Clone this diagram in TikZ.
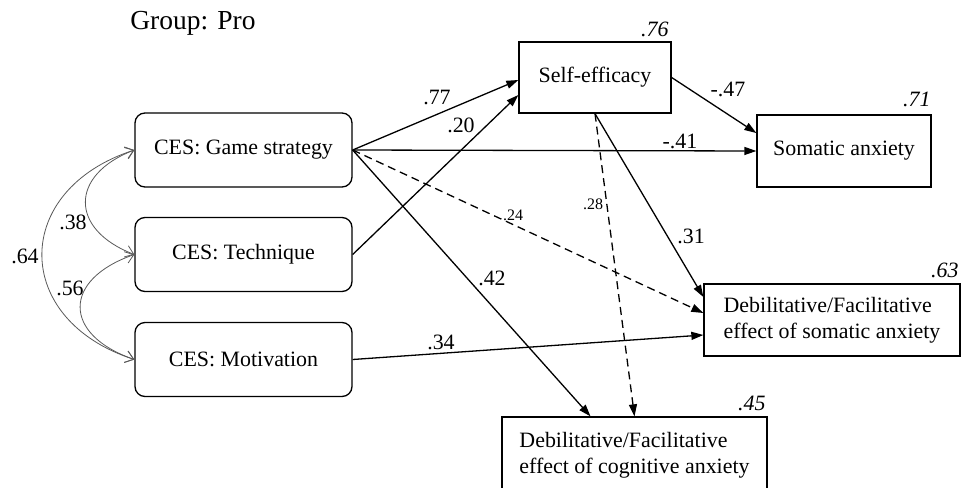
\documentclass[tikz,border=0pt]{standalone}
\usepackage{fontspec}
\setmainfont{Liberation Serif}
\usetikzlibrary{arrows.meta,calc}
\begin{document}
\begin{tikzpicture}[x=0.5pt,y=-0.5pt,
  mainfont/.style={font=\fontsize{10.95}{13}\selectfont},
  cesbox/.style={draw, line width=0.65pt, rounded corners=5pt, minimum width=108.5pt, minimum height=37pt, inner sep=0pt, mainfont},
  varbox/.style={draw, line width=0.65pt, inner sep=0pt, mainfont},
  pathar/.style={line width=0.65pt, -{Triangle[length=6pt,width=4pt]}},
  dpathar/.style={pathar, dash pattern=on 4pt off 2.5pt},
  coef/.style={mainfont, inner sep=0pt},
  coefsm/.style={font=\fontsize{8}{9}\selectfont, inner sep=0pt},
  rsq/.style={font=\fontsize{10.95}{13}\selectfont\itshape, inner sep=0pt, anchor=base east},
  corr/.style={line width=0.4pt, draw=black!65, {Straight Barb[length=4pt,width=6pt]}-{Straight Barb[length=4pt,width=6pt]}}
]
\useasboundingbox (0,0) rectangle (961,487);
\clip (0,0) rectangle (961,487);

\node[font=\fontsize{13.75}{16}\selectfont, inner sep=0pt] (title) at (193,23) {Group: Pro};

% exogenous
\node[cesbox] (gs) at (243.5,150) {CES: Game strategy};
\node[cesbox] (tech) at (243.5,254.5) {CES: Technique};
\node[cesbox] (mot) at (243.5,359.5) {CES: Motivation};

% endogenous
\node[varbox, minimum width=76pt, minimum height=35.5pt] (se) at (595,77.5) {Self-efficacy};
\node[varbox, minimum width=87pt, minimum height=36pt] (som) at (844,151) {Somatic anxiety};
\node[varbox, minimum width=128pt, minimum height=36pt, align=left] (dso) at (832,320) {Debilitative/Facilitative\\effect of somatic anxiety};
\node[varbox, minimum width=132.5pt, minimum height=38pt, align=left] (dco) at (634.5,455) {Debilitative/Facilitative\\effect of cognitive anxiety};

% R squared
\node[rsq] (r76) at (669,36) {.76};
\node[rsq] (r71) at (931,106) {.71};
\node[rsq] (r63) at (959,277) {.63};
\node[rsq] (r45) at (766,410) {.45};

% correlations
\draw[corr] (gs.west) .. controls +(-65,25) and +(-65,-25) .. (tech.west);
\draw[corr] (tech.west) .. controls +(-72,25) and +(-72,-25) .. (mot.west);
\draw[corr] (gs.west) .. controls +(-123,40) and +(-123,-40) .. (mot.west);
\node[coef] (c38) at (73,222) {.38};
\node[coef] (c56) at (70,288) {.56};
\node[coef] (c64) at (25,256) {.64};

% paths
\draw[pathar] (gs.east) -- ([yshift=-1.25pt]se.west);
\draw[pathar] (tech.east) -- ([yshift=-8.75pt]se.west);
\draw[pathar] (gs.east) -- (som.west);
\draw[dpathar] (gs.east) -- ([yshift=3.5pt]dso.west);
\draw[pathar] (gs.east) -- ([xshift=-22pt]dco.north);
\draw[pathar] (mot.east) -- ([yshift=-7.5pt]dso.west);
\draw[dpathar] (se.south) -- (dco.north);
\draw[pathar] (se.south) -- ([yshift=11.5pt]dso.west);
\draw[pathar] (se.east) -- ([yshift=9pt]som.west);

\node[coef] (c77) at (437,97) {.77};
\node[coef] (c20) at (461,125) {.20};
\node[coef] (c41) at (680,141) {-.41};
\node[coef] (c47) at (728,89) {-.47};
\node[coef] (c31) at (691,236) {.31};
\node[coef] (c42) at (492,278) {.42};
\node[coef] (c34) at (441,342) {.34};
\node[coefsm] (c24) at (513,215) {.24};
\node[coefsm] (c28) at (593,204) {.28};
\end{tikzpicture}
\end{document}
